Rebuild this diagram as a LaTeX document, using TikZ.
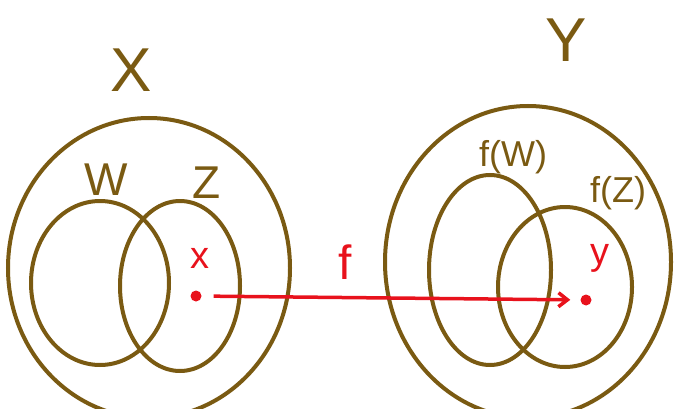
\documentclass[tikz,border=0pt]{standalone}
\usepackage{fontspec}
\setmainfont{Liberation Sans}
\usetikzlibrary{arrows.meta}
\definecolor{brn}{HTML}{7A5A12}
\definecolor{rd}{HTML}{E8121C}
\tikzset{
  set/.style={draw=brn, line width=4pt},
  lbl/.style={text=brn, inner sep=0pt},
  rlbl/.style={text=rd, inner sep=0pt},
  pt/.style={circle, fill=rd, inner sep=0pt, minimum size=11pt},
}
\begin{document}
\begin{tikzpicture}[x=1pt,y=-1pt]
\useasboundingbox (0,0) rectangle (679,409);
% left set X
\draw[set] (149,268) ellipse [x radius=141, y radius=150];
\draw[set] (100,283) ellipse [x radius=69, y radius=82];
\draw[set] (180,286) ellipse [x radius=60, y radius=85];
% right set Y
\draw[set] (528,262) ellipse [x radius=143, y radius=156];
\draw[set] (490,270) ellipse [x radius=61, y radius=95];
\draw[set] (565,287) ellipse [x radius=67, y radius=80];
% labels
\node[lbl, font=\fontsize{62}{62}\selectfont] (X) at (131,70) {X};
\node[lbl, font=\fontsize{46}{46}\selectfont] (W) at (106,180) {W};
\node[lbl, font=\fontsize{46}{46}\selectfont] (Z) at (207,183) {Z};
\node[lbl, font=\fontsize{62}{62}\selectfont] (Y) at (566,40) {Y};
\node[lbl, font=\fontsize{36}{36}\selectfont] (fW) at (513,157) {f(W)};
\node[lbl, font=\fontsize{36}{36}\selectfont] (fZ) at (618,193) {f(Z)};
\node[rlbl, font=\fontsize{38}{38}\selectfont] (xl) at (200,258) {x};
\node[rlbl, font=\fontsize{38}{38}\selectfont] (yl) at (600,258) {y};
\node[rlbl, font=\fontsize{48}{48}\selectfont] (f) at (345,262) {f};
\node[pt] (xdot) at (196,296) {};
\node[pt] (ydot) at (586,300) {};
\draw[rd, line width=3.5pt, -{Straight Barb[length=9pt,width=14pt]}, shorten >=10pt, shorten <=12pt] (xdot) -- (ydot);
\end{tikzpicture}
\end{document}
